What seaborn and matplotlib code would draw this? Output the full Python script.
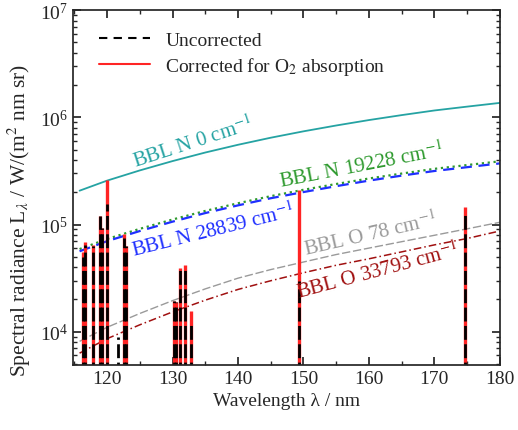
import numpy as np
import pandas as pd
import seaborn as sns
import matplotlib.pyplot as plt
from matplotlib.lines import Line2D

# wavelength grid of the blackbody-like curves (nm)
wl = [115.8, 120, 125, 130, 135, 140, 145, 150, 155, 160, 165, 170, 175, 180]
bbl_n_0 = [2.07e5, 2.57e5, 3.2e5, 3.91e5, 4.7e5, 5.55e5, 6.46e5, 7.41e5,
           8.4e5, 9.44e5, 1.05e6, 1.16e6, 1.26e6, 1.365e6]
bbl_n_19228 = [5.9e4, 7.33e4, 9.12e4, 1.114e5, 1.34e5, 1.58e5, 1.84e5, 2.11e5,
               2.39e5, 2.69e5, 2.99e5, 3.31e5, 3.59e5, 3.89e5]
bbl_n_28839 = [5.63e4, 7.0e4, 8.7e4, 1.064e5, 1.28e5, 1.51e5, 1.76e5, 2.01e5,
               2.28e5, 2.57e5, 2.86e5, 3.16e5, 3.43e5, 3.72e5]
bbl_o_78 = [8.13e3, 1.1e4, 1.48e4, 1.95e4, 2.51e4, 3.16e4, 3.8e4, 4.47e4,
            5.25e4, 6.03e4, 6.92e4, 7.94e4, 9.12e4, 1.05e5]
bbl_o_33793 = [6.31e3, 8.61e3, 1.16e4, 1.53e4, 1.97e4, 2.48e4, 2.99e4, 3.55e4,
               4.17e4, 4.79e4, 5.56e4, 6.46e4, 7.41e4, 8.71e4]

# emission lines
line_wl = [116.3, 116.7, 117.8, 118.85, 119.15, 120.0, 121.7, 122.6, 122.95,
           130.2, 130.5, 131.2, 131.9, 132.8, 149.3, 174.6]
corrected = [5.5e4, 6.8e4, 6.5e4, 1.2e5, 9.2e4, 2.6e5, 0, 8.2e4, 6.3e4,
             1.95e4, 1.9e4, 3.9e4, 4.2e4, 1.55e4, 2.1e5, 1.45e5]
uncorrected = [5.0e4, 6.5e4, 6.3e4, 1.2e5, 9.2e4, 1.55e5, 9e3, 7.5e4, 6.3e4,
               1.95e4, 1.9e4, 3.9e4, 3.8e4, 1.2e4, 3.0e4, 1.35e5]

sns.set_theme(style="ticks")
plt.rcParams["font.family"] = ["Liberation Serif", "DejaVu Serif"]
plt.rcParams["mathtext.fontset"] = "stix"

fig = plt.figure(figsize=(5.18, 4.31), dpi=100)
ax = fig.add_axes([0.141, 0.151, 0.824, 0.823])

curves = [
    (bbl_n_0, "#25a3a3", "-", 1.3),
    (bbl_n_19228, "#2e9a2e", ":", 1.6),
    (bbl_n_28839, "#1f2fff", (0, (5, 3)), 1.6),
    (bbl_o_78, "#9a9a9a", (0, (6, 2)), 1.0),
    (bbl_o_33793, "#a01010", (0, (5, 2, 1, 2)), 1.1),
]
for vals, col, ls, lw in curves:
    df = pd.DataFrame({"wl": wl, "L": vals})
    sns.lineplot(data=df, x="wl", y="L", color=col, linestyle=ls, linewidth=lw, ax=ax)

floor = 1e3
ax.vlines([w for w, c in zip(line_wl, corrected) if c > 0], floor,
          [c for c in corrected if c > 0], color="#ff2424", linewidth=2.4)
ax.vlines(line_wl, floor, uncorrected, color="black", linewidth=2.0,
          linestyles=(0, (5, 1.6)))

ax.set_yscale("log")
ax.set_xlim(114.8, 180)
ax.set_ylim(4.9e3, 1e7)
ax.set_xticks([120, 130, 140, 150, 160, 170, 180])
ax.set_xticks(np.arange(115, 181, 5), minor=True)
ax.tick_params(which="both", direction="in", top=True, right=True, labelsize=14)
ax.tick_params(which="major", length=6)
ax.tick_params(which="minor", length=3)
ax.set_xlabel("Wavelength λ / nm", fontsize=14)
ax.set_ylabel(r"Spectral radiance L$_\lambda$ / W/(m$^2$ nm sr)", fontsize=15.5)
ax.yaxis.set_label_coords(-0.094, 0.41)

lab_kw = dict(fontsize=15, ha="center", va="center")
ax.text(133.2, 5.9e5, r"BBL N 0 cm$^{-1}$", color="#25a3a3", rotation=18, **lab_kw)
ax.text(158.8, 3.6e5, r"BBL N 19228 cm$^{-1}$", color="#2e9a2e", rotation=11, **lab_kw)
ax.text(136.2, 8.8e4, r"BBL N 28839 cm$^{-1}$", color="#1f2fff", rotation=14, **lab_kw)
ax.text(160.2, 8.2e4, r"BBL O 78 cm$^{-1}$", color="#9a9a9a", rotation=13, **lab_kw)
ax.text(161.4, 3.7e4, r"BBL O 33793 cm$^{-1}$", color="#a01010", rotation=15, **lab_kw)

handles = [Line2D([], [], color="black", linestyle=(0, (4, 3)), linewidth=1.5),
           Line2D([], [], color="#ff2424", linewidth=1.5)]
ax.legend(handles, ["Uncorrected", r"Corrected for O$_2$ absorption"],
          loc="upper left", bbox_to_anchor=(0.02, 0.99), frameon=False,
          fontsize=14, handlelength=2.6, labelspacing=0.3)

fig.savefig("out.png", dpi=100)
